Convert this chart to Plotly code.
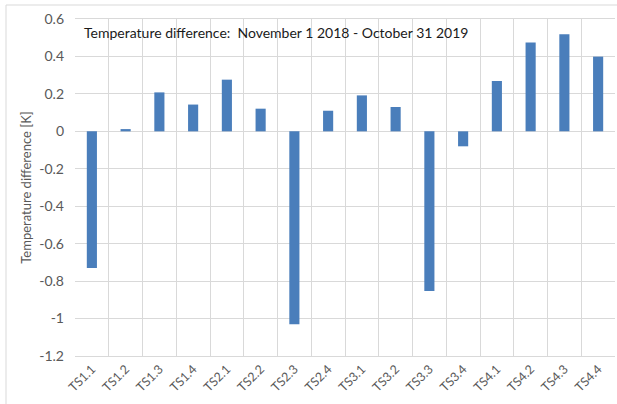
import plotly.graph_objects as go

# Sensor positions and their yearly mean temperature difference [K]
sensors = ["TS1.1", "TS1.2", "TS1.3", "TS1.4",
           "TS2.1", "TS2.2", "TS2.3", "TS2.4",
           "TS3.1", "TS3.2", "TS3.3", "TS3.4",
           "TS4.1", "TS4.2", "TS4.3", "TS4.4"]
temp_diff = [-0.73, 0.012, 0.208, 0.143,
             0.276, 0.121, -1.03, 0.11,
             0.192, 0.13, -0.853, -0.08,
             0.269, 0.474, 0.518, 0.399]
y_ticks = [0.6, 0.4, 0.2, 0, -0.2, -0.4, -0.6, -0.8, -1, -1.2]
title_text = "Temperature difference:  November 1 2018 - October 31 2019"

W, H = 617, 404
ML, MR, MT, MB = 75, 2, 19, 48
pw, ph = W - ML - MR, H - MT - MB

FONT = "Lato"
GRID = "#d9d9d9"
TICK = "#595959"

fig = go.Figure(go.Bar(
    x=sensors, y=temp_diff,
    marker=dict(color="#4a7ebb", line=dict(width=0)),
))

fig.update_layout(
    width=W, height=H,
    margin=dict(l=ML, r=MR, t=MT, b=MB),
    paper_bgcolor="white", plot_bgcolor="white",
    bargap=0.7, showlegend=False,
    font=dict(family=FONT, size=13, color=TICK),
)

fig.update_xaxes(
    type="category", tickson="boundaries",
    showgrid=True, gridcolor=GRID, gridwidth=1,
    showline=True, linecolor=GRID, linewidth=1, mirror=True,
    ticks="", tickangle=-45,
    tickfont=dict(family=FONT, size=12.5, color=TICK),
)

fig.update_yaxes(
    range=[-1.2, 0.6], tickvals=y_ticks,
    ticktext=[f"{v:g}" for v in y_ticks],
    showgrid=True, gridcolor=GRID, gridwidth=1,
    zeroline=True, zerolinecolor=GRID, zerolinewidth=1,
    showline=False, ticks="", ticklabelstandoff=10,
    tickfont=dict(family=FONT, size=14, color=TICK),
    title=dict(text="Temperature difference [K]",
               font=dict(family=FONT, size=13, color=TICK), standoff=4),
)

# Title written inside the plot area, top left
fig.add_annotation(
    text=title_text, xref="paper", yref="paper",
    x=(82 - ML) / pw, y=(MT + ph - 32) / ph,
    xanchor="left", yanchor="middle", showarrow=False,
    font=dict(family=FONT, size=14, color="#1a1a1a"),
)

# Light outer chart-area border
fig.add_shape(
    type="rect", xref="paper", yref="paper",
    x0=(6 - ML) / pw, x1=(W + 10 - ML) / pw,
    y0=(MT + ph - (H + 10)) / ph, y1=(MT + ph - 5) / ph,
    line=dict(color=GRID, width=1), fillcolor="rgba(0,0,0,0)",
    layer="below",
)

fig.write_html("out.html")
